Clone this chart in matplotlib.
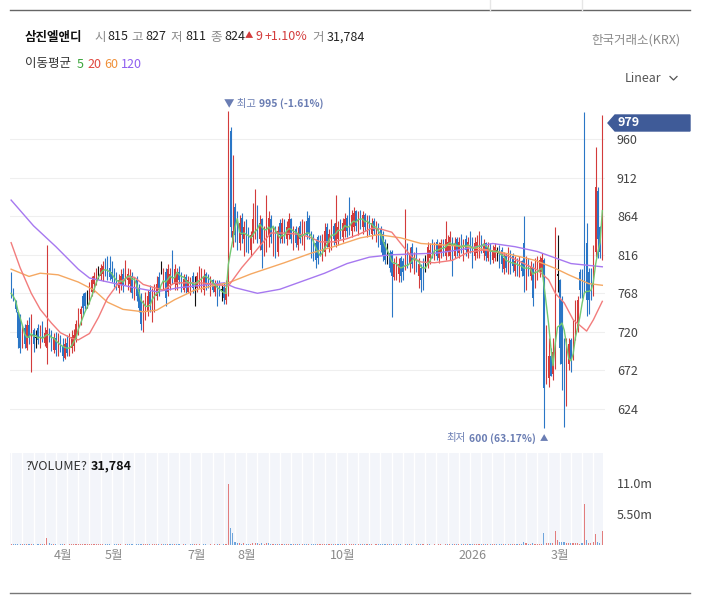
import numpy as np
import pandas as pd
import matplotlib
matplotlib.use("Agg")
import matplotlib.pyplot as plt
from matplotlib.patches import Polygon
from matplotlib.lines import Line2D

plt.rcParams['font.family'] = ['Noto Sans CJK KR', 'DejaVu Sans']

W, H = 703, 596

# daily candles (KRW)
opens = [790, 770, 758, 745, 738, 702, 725, 700, 728, 700,
         722, 712, 725, 705, 722, 706, 700, 722, 718, 698,
         712, 696, 710, 702, 688, 706, 694, 700, 702, 712,
         728, 742, 765, 768, 760, 758, 770, 780, 785, 795,
         790, 792, 805, 806, 800, 795, 792, 788, 775, 780,
         792, 782, 785, 780, 790, 768, 784, 770, 760, 725,
         740, 745, 770, 752, 755, 765, 788, 800, 778, 795,
         770, 780, 812, 780, 778, 795, 790, 772, 788, 770,
         772, 790, 778, 775, 778, 780, 772, 792, 788, 772,
         784, 770, 780, 778, 772, 776, 760, 768, 970, 830,
         875, 868, 830, 862, 835, 855, 845, 822, 838, 840,
         872, 835, 860, 825, 830, 840, 860, 832, 848, 820,
         855, 836, 858, 835, 840, 860, 830, 848, 828, 852,
         832, 835, 858, 862, 840, 835, 830, 838, 832, 812,
         820, 850, 825, 828, 852, 830, 835, 855, 838, 845,
         862, 868, 845, 850, 870, 848, 868, 850, 866, 846,
         862, 842, 858, 840, 852, 848, 842, 832, 822, 818,
         820, 788, 790, 792, 812, 808, 800, 825, 805, 825,
         800, 815, 790, 800, 808, 812, 805, 812, 830, 815,
         832, 812, 818, 832, 815, 820, 815, 835, 815, 835,
         818, 838, 820, 836, 818, 840, 835, 815, 818, 815,
         835, 818, 830, 812, 828, 810, 812, 820, 825, 822,
         798, 815, 798, 818, 815, 796, 810, 795, 808, 830,
         790, 810, 790, 800, 780, 790, 795, 795, 810, 660,
         662, 690, 668, 680, 790, 785, 760, 700, 650, 680,
         710, 690, 712, 725, 795, 790, 950, 830, 795, 798,
         770, 820, 895, 850, 812]
highs = [795, 775, 760, 745, 742, 728, 730, 735, 738, 742,
         725, 722, 730, 728, 733, 726, 828, 725, 722, 718,
         720, 718, 716, 712, 712, 716, 718, 722, 724, 735,
         750, 752, 768, 770, 772, 782, 790, 795, 800, 802,
         805, 808, 812, 815, 814, 808, 800, 795, 792, 798,
         800, 810, 800, 798, 795, 788, 790, 780, 768, 760,
         770, 772, 778, 775, 780, 790, 795, 808, 800, 800,
         805, 800, 822, 805, 800, 802, 795, 792, 792, 790,
         788, 795, 790, 795, 802, 800, 798, 795, 792, 790,
         786, 785, 784, 784, 780, 782, 785, 995, 975, 940,
         880, 870, 865, 868, 858, 860, 850, 845, 880, 898,
         878, 866, 862, 852, 890, 870, 865, 850, 852, 852,
         860, 862, 860, 858, 868, 862, 852, 852, 850, 858,
         860, 858, 870, 866, 845, 842, 836, 840, 840, 842,
         855, 855, 848, 860, 855, 890, 858, 860, 862, 868,
         865, 888, 872, 875, 872, 870, 872, 870, 868, 865,
         866, 862, 862, 858, 856, 852, 845, 836, 830, 822,
         822, 812, 815, 812, 815, 812, 873, 830, 825, 830,
         820, 825, 812, 805, 812, 816, 832, 830, 835, 832,
         836, 832, 835, 836, 858, 840, 845, 838, 838, 838,
         838, 842, 836, 840, 838, 845, 838, 838, 840, 845,
         840, 835, 832, 832, 830, 828, 830, 826, 828, 825,
         820, 818, 825, 822, 818, 815, 812, 815, 810, 864,
         815, 812, 808, 806, 812, 815, 815, 818, 812, 728,
         712, 700, 712, 850, 840, 786, 765, 712, 712, 712,
         712, 735, 760, 765, 798, 798, 994, 855, 800, 800,
         828, 950, 900, 852, 990]
lows = [762, 758, 745, 700, 694, 700, 700, 698, 705, 670,
        695, 700, 705, 700, 708, 702, 680, 708, 696, 694,
        690, 690, 695, 684, 686, 690, 690, 694, 696, 708,
        716, 728, 740, 748, 750, 755, 765, 770, 778, 786,
        785, 783, 790, 785, 784, 782, 776, 772, 768, 772,
        770, 778, 772, 770, 762, 760, 758, 745, 722, 720,
        735, 740, 745, 732, 745, 760, 765, 792, 772, 752,
        765, 772, 780, 772, 772, 780, 770, 770, 768, 768,
        766, 768, 752, 770, 775, 770, 766, 772, 775, 765,
        770, 765, 752, 765, 758, 755, 755, 765, 838, 825,
        832, 822, 822, 830, 815, 820, 818, 815, 830, 835,
        830, 822, 800, 815, 820, 825, 830, 815, 812, 815,
        830, 830, 830, 828, 835, 830, 822, 825, 822, 830,
        828, 822, 835, 835, 812, 808, 800, 805, 815, 808,
        815, 825, 820, 822, 828, 825, 828, 835, 832, 838,
        838, 840, 838, 845, 845, 840, 848, 842, 845, 838,
        840, 835, 840, 832, 826, 820, 808, 805, 805, 795,
        738, 785, 785, 782, 782, 785, 797, 800, 795, 800,
        792, 795, 775, 770, 772, 795, 800, 805, 812, 810,
        810, 806, 812, 815, 810, 815, 810, 790, 812, 815,
        812, 818, 808, 815, 812, 818, 800, 810, 812, 812,
        818, 810, 808, 808, 805, 806, 808, 808, 800, 795,
        792, 795, 792, 792, 795, 790, 790, 788, 790, 770,
        772, 790, 785, 752, 775, 785, 788, 790, 600, 655,
        652, 665, 660, 674, 770, 680, 648, 602, 628, 672,
        670, 685, 710, 720, 762, 762, 768, 740, 742, 760,
        765, 813, 812, 812, 810]
closes = [768, 760, 748, 712, 700, 722, 705, 728, 712, 722,
          705, 712, 710, 720, 712, 718, 722, 712, 700, 712,
          698, 710, 700, 690, 705, 694, 710, 714, 716, 730,
          745, 748, 750, 752, 760, 775, 785, 790, 795, 795,
          800, 802, 795, 790, 788, 786, 780, 776, 785, 790,
          778, 800, 792, 788, 768, 782, 765, 750, 730, 752,
          762, 765, 755, 768, 772, 780, 772, 800, 795, 762,
          798, 792, 788, 798, 795, 785, 778, 786, 775, 784,
          782, 775, 778, 790, 795, 792, 790, 778, 780, 785,
          772, 780, 760, 770, 772, 762, 775, 940, 850, 845,
          840, 830, 855, 840, 850, 830, 825, 840, 860, 870,
          845, 855, 822, 845, 868, 862, 838, 845, 818, 845,
          840, 855, 838, 850, 860, 835, 845, 830, 842, 835,
          850, 848, 840, 842, 818, 815, 810, 812, 820, 835,
          845, 830, 842, 850, 835, 855, 850, 842, 855, 860,
          845, 852, 865, 868, 852, 862, 855, 865, 850, 858,
          845, 855, 845, 850, 832, 828, 815, 810, 822, 800,
          790, 805, 808, 805, 790, 795, 815, 808, 818, 805,
          812, 800, 805, 785, 795, 812, 825, 822, 818, 828,
          815, 828, 830, 820, 835, 832, 838, 815, 830, 822,
          832, 825, 830, 822, 832, 825, 812, 830, 832, 835,
          822, 828, 815, 825, 812, 822, 825, 820, 808, 805,
          812, 800, 815, 800, 802, 808, 795, 808, 796, 790,
          808, 795, 802, 762, 805, 808, 810, 812, 650, 690,
          690, 665, 695, 790, 790, 700, 680, 650, 700, 705,
          685, 725, 752, 760, 772, 770, 790, 760, 760, 780,
          820, 900, 835, 820, 979]

# volume, millions of shares
volumes = [0.12, 0.10, 0.15, 0.18, 0.14, 0.11, 0.09, 0.10, 0.12, 0.20,
           0.15, 0.08, 0.10, 0.09, 0.11, 0.13, 1.25, 0.30, 0.15, 0.10,
           0.09, 0.08, 0.10, 0.12, 0.09, 0.08, 0.10, 0.11, 0.09, 0.14,
           0.18, 0.12, 0.15, 0.10, 0.09, 0.12, 0.16, 0.14, 0.11, 0.10,
           0.12, 0.15, 0.10, 0.09, 0.12, 0.08, 0.10, 0.09, 0.11, 0.10,
           0.08, 0.12, 0.10, 0.09, 0.11, 0.08, 0.09, 0.12, 0.20, 0.15,
           0.10, 0.09, 0.11, 0.10, 0.14, 0.12, 0.10, 0.09, 0.18, 0.22,
           0.15, 0.10, 0.25, 0.12, 0.10, 0.09, 0.08, 0.10, 0.09, 0.08,
           0.09, 0.10, 0.12, 0.09, 0.10, 0.08, 0.09, 0.10, 0.08, 0.09,
           0.08, 0.09, 0.10, 0.09, 0.08, 0.10, 0.12, 10.8, 3.00, 2.20,
           0.60, 0.40, 0.30, 0.25, 0.30, 0.20, 0.18, 0.20, 0.35, 0.40,
           0.30, 0.25, 0.30, 0.20, 0.35, 0.30, 0.20, 0.18, 0.20, 0.22,
           0.15, 0.18, 0.14, 0.12, 0.20, 0.15, 0.12, 0.10, 0.12, 0.10,
           0.12, 0.10, 0.15, 0.12, 0.18, 0.14, 0.12, 0.10, 0.09, 0.12,
           0.14, 0.10, 0.09, 0.12, 0.10, 0.20, 0.12, 0.10, 0.09, 0.10,
           0.12, 0.18, 0.14, 0.12, 0.10, 0.09, 0.10, 0.12, 0.09, 0.10,
           0.09, 0.10, 0.08, 0.09, 0.10, 0.12, 0.14, 0.12, 0.10, 0.15,
           0.25, 0.12, 0.10, 0.09, 0.10, 0.08, 0.22, 0.12, 0.10, 0.09,
           0.08, 0.09, 0.12, 0.10, 0.09, 0.08, 0.10, 0.09, 0.08, 0.09,
           0.08, 0.09, 0.10, 0.08, 0.15, 0.10, 0.12, 0.15, 0.10, 0.09,
           0.10, 0.12, 0.15, 0.18, 0.12, 0.20, 0.25, 0.15, 0.18, 0.20,
           0.15, 0.18, 0.20, 0.15, 0.22, 0.18, 0.20, 0.15, 0.20, 0.25,
           0.18, 0.15, 0.20, 0.18, 0.15, 0.20, 0.18, 0.15, 0.20, 0.60,
           0.30, 0.25, 0.20, 0.30, 0.25, 0.20, 0.18, 0.20, 2.10, 0.40,
           0.35, 0.30, 0.40, 2.50, 0.80, 0.50, 0.45, 0.60, 0.40, 0.35,
           0.30, 0.35, 0.40, 0.30, 0.25, 0.30, 7.30, 0.90, 0.35, 0.30,
           0.50, 1.90, 0.60, 0.40, 2.50]

# moving averages read at sample candles
ma20_idx = [0, 4, 9, 13, 18, 22, 27, 30, 35, 39, 43, 48, 52, 55, 59, 64, 68, 73, 85, 94,
            97, 103, 107, 112, 116, 122, 130, 134, 138, 144, 150, 155, 161, 165, 170, 174,
            179, 183, 189, 197, 204, 211, 219, 226, 235, 240, 243, 247, 251, 257, 260, 264]
ma20_val = [831, 800, 768, 748, 731, 719, 712, 710, 718, 738, 762, 781, 788, 788, 779, 775,
            772, 781, 781, 778, 777, 800, 813, 830, 843, 843, 841, 837, 832, 832, 836, 841,
            849, 848, 844, 830, 813, 807, 806, 809, 819, 822, 818, 809, 797, 785, 768, 756,
            735, 721, 735, 758]
ma60_idx = [0, 8, 13, 21, 30, 37, 43, 50, 59, 65, 73, 82, 91, 97, 107, 122, 134, 144, 156,
            164, 174, 183, 204, 219, 234, 243, 249, 258, 264]
ma60_val = [798, 789, 793, 791, 782, 772, 757, 748, 745, 747, 760, 772, 778, 781, 792, 806,
            818, 826, 837, 841, 837, 830, 826, 819, 809, 799, 791, 780, 778]
ma120_idx = [0, 10, 20, 30, 35, 45, 55, 65, 75, 85, 95, 100, 110, 120, 130, 140, 150, 160,
             170, 180, 190, 200, 210, 215, 225, 235, 243, 250, 257, 264]
ma120_val = [884, 852, 826, 798, 787, 781, 775, 770, 775, 778, 781, 775, 768, 773, 783, 793,
             805, 813, 816, 817, 818, 822, 827, 830, 826, 820, 812, 805, 803, 801]

month_idx = [23, 46, 83, 105, 148, 206, 245]
month_labels = ['4월', '5월', '7월', '8월', '10월', '2026', '3월']
price_ticks = [624, 672, 720, 768, 816, 864, 912, 960]
vol_ticks = [5.5, 11.0]
vol_labels = ['5.50m', '11.0m']

RED = '#d33b3b'
BLUE = '#2a76c6'
SLATE = '#6a7db3'


def fx(x):
    return x / W


def fy(y):
    return 1 - y / H


def txt(x, y, s, **kw):
    kw.setdefault('fontsize', 9)
    fig.text(fx(x), fy(y), s, va='center', **kw)


fig = plt.figure(figsize=(W / 100, H / 100), dpi=100)

# price panel
ax = fig.add_axes([fx(10), fy(448), 595 / W, 356 / H])
o = np.array(opens)
h = np.array(highs)
l = np.array(lows)
c = np.array(closes)
x = np.arange(len(c))
cols = np.where(c > o, RED, np.where(c < o, BLUE, '#111111'))

ax.vlines(x, l, h, colors=cols, linewidth=0.8, zorder=2)
ax.bar(x, np.maximum(np.abs(c - o), 1.5), bottom=np.minimum(o, c), width=0.55,
       color=cols, linewidth=0, zorder=2)

ma5 = pd.Series(closes).rolling(5, min_periods=1).mean()
ax.plot(ma120_idx, ma120_val, color='#a678f0', lw=1.0, zorder=3)
ax.plot(ma60_idx, ma60_val, color='#f5a862', lw=1.0, zorder=3)
ax.plot(ma20_idx, ma20_val, color='#f27c7c', lw=1.0, zorder=3)
ax.plot(x, ma5, color='#72c872', lw=1.0, zorder=4)

ax.set_xlim(-0.5, 265.2)
ax.set_ylim(575.5, 1018.5)
ax.set_yticks(price_ticks)
ax.set_xticks([])
ax.yaxis.tick_right()
ax.tick_params(axis='y', length=0, pad=8.6, labelsize=9, labelcolor='#444')
ax.grid(axis='y', color='#efefef', lw=0.8)
ax.set_axisbelow(True)
for s in ax.spines.values():
    s.set_visible(False)

# high / low markers, chained so the pieces never overlap
hi = int(np.argmax(h))
lo = int(np.argmin(l))
t1 = ax.annotate('▼ 최고', xy=(hi, h[hi]), xytext=(-4, 7), textcoords='offset pixels',
                 ha='left', va='center', color=SLATE, fontsize=7.5)
ax.annotate(f'{h[hi]} (-1.61%)', xy=(1, 0.5), xycoords=t1, xytext=(3, 0),
            textcoords='offset pixels', ha='left', va='center', color=SLATE,
            fontsize=7.5, fontweight='bold')
t3 = ax.annotate('▲', xy=(lo, l[lo]), xytext=(4, -10), textcoords='offset pixels',
                 ha='right', va='center', color=SLATE, fontsize=6)
t4 = ax.annotate(f'{l[lo]} (63.17%)', xy=(0, 0.5), xycoords=t3, xytext=(-4, 0),
                 textcoords='offset pixels', ha='right', va='center', color=SLATE,
                 fontsize=7.5, fontweight='bold')
ax.annotate('최저', xy=(0, 0.5), xycoords=t4, xytext=(-3, 0), textcoords='offset pixels',
            ha='right', va='center', color=SLATE, fontsize=7.5)

# volume panel
vax = fig.add_axes([fx(10), fy(545), 593 / W, 92 / H])
vax.set_facecolor('#f3f5fa')
for k in range(0, len(c) + 5, 5):
    vax.axvline(k, color='white', lw=1.0, zorder=0)
prev = np.concatenate([[c[0]], c[:-1]])
vcols = np.where(c >= prev, '#e27d7d', '#6fa5dc')
vax.bar(x, volumes, width=0.5, color=vcols, linewidth=0, zorder=2)
vax.set_xlim(-0.5, 264.4)
vax.set_ylim(0, 16.3)
vax.set_yticks(vol_ticks)
vax.set_yticklabels(vol_labels)
vax.yaxis.tick_right()
vax.tick_params(axis='y', length=0, pad=10, labelsize=9, labelcolor='#444')
vax.set_xticks(month_idx)
vax.set_xticklabels(month_labels)
vax.tick_params(axis='x', length=0, pad=3, labelsize=9, labelcolor='#8a8a8a')
for s in vax.spines.values():
    s.set_visible(False)

txt(25, 466, '?VOLUME?', color='#333')
txt(91, 466, '31,784', color='#111', fontweight='bold')

# header
txt(25, 37, '삼진엘앤디', color='#111', fontweight='bold')
for xx, s, col in [(94, '시', '#8a8a8a'), (107, '815', '#222'),
                   (131, '고', '#8a8a8a'), (145, '827', '#222'),
                   (170, '저', '#8a8a8a'), (185, '811', '#222'),
                   (210, '종', '#8a8a8a'), (224, '824', '#222'),
                   (256, '9', RED), (265, '+1.10%', RED),
                   (312, '거', '#8a8a8a'), (327, '31,784', '#222')]:
    txt(xx, 37, s, color=col)
txt(245, 36, '▲', color=RED, fontsize=6)

txt(25, 64, '이동평균', color='#333')
for xx, s, col in [(77, '5', '#3aa53a'), (87, '20', '#e0473f'),
                   (104, '60', '#f0913a'), (121, '120', '#8f5ff0')]:
    txt(xx, 64, s, color=col)

txt(680, 40, '한국거래소(KRX)', color='#8a8a8a', ha='right')
txt(661, 78, 'Linear', color='#555', ha='right')
fig.add_artist(Line2D([fx(670), fx(673.5), fx(677)], [fy(76.5), fy(80), fy(76.5)],
                      color='#555', lw=0.9))

# last price badge
badge = Polygon([(fx(608), fy(123)), (fx(615), fy(115)), (fx(690), fy(115)),
                 (fx(690), fy(131)), (fx(615), fy(131))],
                closed=True, transform=fig.transFigure, color='#3f5b98')
fig.add_artist(badge)
txt(618, 123, f'{c[-1]}', color='white', fontweight='bold')

# frame lines
fig.add_artist(Line2D([fx(10), fx(690)], [fy(10), fy(10)], color='#666', lw=1.0))
fig.add_artist(Line2D([fx(10), fx(690)], [fy(593), fy(593)], color='#777', lw=1.0))
for xx in [490, 582]:
    fig.add_artist(Line2D([fx(xx), fx(xx)], [fy(0), fy(10)], color='#e6e6e6', lw=1.0))

fig.savefig('out.png', dpi=100)
